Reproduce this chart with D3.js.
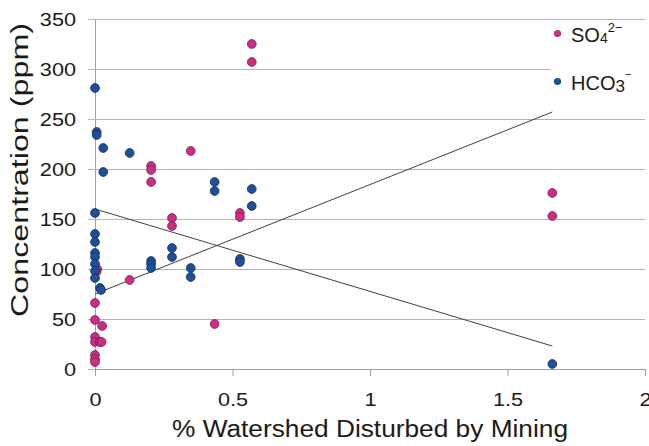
<!DOCTYPE html>
<html>
<head>
<meta charset="utf-8">
<script src="https://cdn.jsdelivr.net/npm/d3@7"></script>
<style>
  body { margin: 0; background: #fff; }
  svg { font-family: "Liberation Sans", Arial, sans-serif; }
</style>
</head>
<body>
<svg id="chart" width="649" height="446" viewBox="0 0 649 446"></svg>
<script>
// SO4 2- points (x = % watershed disturbed, y = ppm)
const so4X = [0.57, 0.57, 0.527, 0.527, 0.348, 0.204, 0.204, 0.204, 0.28, 0.28, 0.126, 0.435, 1.663, 1.663,
              0.008, 0.005, 0, 0, 0.026, 0, 0, 0.018, 0.024, 0, 0, 0]
const so4Y = [325, 307, 156, 152, 218, 203, 199, 187, 151, 143, 89, 45, 176, 153,
              100, 97, 66, 49, 43, 32, 27, 27, 27, 14, 10, 7]

// HCO3- points
const hco3X = [0, 0.006, 0.006, 0.03, 0.03, 0.126, 0.435, 0.435, 0.57, 0.57, 0.527, 0.527, 0.348, 0.348,
               0.28, 0.28, 0.204, 0.204, 0.204, 0, 0, 0, 0, 0, 0, 0, 0, 0.018, 0.022, 1.663]
const hco3Y = [281, 237, 234, 221, 197, 216, 187, 178, 180, 163, 110, 107, 101, 92,
               121, 112, 108, 105, 101, 156, 135, 127, 116, 112, 105, 98, 91, 81, 79, 5]

// linear trend lines (end points in data units)
const trendX = [0, 1.663]
const so4Trend = [75, 257]
const hco3Trend = [160, 23]

const xTicks = [0, 0.5, 1, 1.5, 2]
const yTicks = [0, 50, 100, 150, 200, 250, 300, 350]

const pink = "#cc2d85", pinkEdge = "#7e1a55"
const blue = "#1d4f9b", blueEdge = "#10305f"

const svg = d3.select("#chart")
const plotL = 95, plotR = 645, plotT = 19, plotB = 369

const x = d3.scaleLinear().domain([0, 2]).range([plotL, plotR])
const y = d3.scaleLinear().domain([0, 350]).range([plotB, plotT])

// the source picture's text is a bit wider than plain Arial
function widen(sel, k) {
    sel.each(function () {
        const w = this.getComputedTextLength()
        d3.select(this)
            .attr("textLength", w * k)
            .attr("lengthAdjust", "spacingAndGlyphs")
    })
}

// gridlines + y ticks
const yAxis = d3.axisLeft(y)
    .tickValues(yTicks)
    .tickSize(-(plotR - plotL))
    .tickSizeOuter(0)
    .tickPadding(19)
const gy = svg.append("g")
    .attr("transform", `translate(${plotL},0)`)
    .call(yAxis)
gy.select(".domain").attr("stroke", "#a0a0a0")
gy.selectAll(".tick line")
    .attr("stroke", "#b4b4b4")
    .attr("x1", -7)
gy.selectAll(".tick text")
    .attr("font-size", 19)
    .attr("fill", "#1a1a1a")
    .attr("font-family", "Liberation Sans, Arial, sans-serif")
    .call(widen, 1.14)

// x axis
const xAxis = d3.axisBottom(x)
    .tickValues(xTicks)
    .tickFormat(d3.format("~g"))
    .tickSize(7)
    .tickSizeOuter(0)
    .tickPadding(17)
const gx = svg.append("g")
    .attr("transform", `translate(0,${plotB})`)
    .call(xAxis)
gx.select(".domain").attr("stroke", "#a0a0a0")
gx.selectAll(".tick line").attr("stroke", "#a0a0a0")
gx.selectAll(".tick text")
    .attr("font-size", 19)
    .attr("fill", "#1a1a1a")
    .attr("font-family", "Liberation Sans, Arial, sans-serif")
    .call(widen, 1.14)

// trend lines
const line = d3.line().x(d => x(d[0])).y(d => y(d[1]))
svg.append("path")
    .datum(d3.zip(trendX, so4Trend))
    .attr("d", line)
    .attr("fill", "none")
    .attr("stroke", "#404040")
    .attr("stroke-width", 1)
svg.append("path")
    .datum(d3.zip(trendX, hco3Trend))
    .attr("d", line)
    .attr("fill", "none")
    .attr("stroke", "#404040")
    .attr("stroke-width", 1)

// points
svg.append("g")
    .selectAll("circle")
    .data(d3.zip(so4X, so4Y))
    .enter()
    .append("circle")
    .attr("cx", d => x(d[0]))
    .attr("cy", d => y(d[1]))
    .attr("r", 4.4)
    .attr("fill", pink)
    .attr("stroke", pinkEdge)
    .attr("stroke-width", 0.8)

svg.append("g")
    .selectAll("circle")
    .data(d3.zip(hco3X, hco3Y))
    .enter()
    .append("circle")
    .attr("cx", d => x(d[0]))
    .attr("cy", d => y(d[1]))
    .attr("r", 4.4)
    .attr("fill", blue)
    .attr("stroke", blueEdge)
    .attr("stroke-width", 0.8)

// legend
const legend = svg.append("g").attr("font-size", 20).attr("fill", "#1a1a1a")
legend.append("rect").attr("x", 550).attr("y", 20).attr("width", 98).attr("height", 28).attr("fill", "#fff")
legend.append("rect").attr("x", 550).attr("y", 68).attr("width", 98).attr("height", 28).attr("fill", "#fff")
legend.append("circle").attr("cx", 557.5).attr("cy", 33.5).attr("r", 3.6).attr("fill", pink)
legend.append("circle").attr("cx", 557.5).attr("cy", 81.5).attr("r", 3.6).attr("fill", blue)

const t1 = legend.append("text").attr("x", 571).attr("y", 41.5)
t1.append("tspan").text("SO")
t1.append("tspan").attr("font-size", 14).attr("dy", 1).text("4")
t1.append("tspan").attr("font-size", 13).attr("dy", -11).text("2−")

const t2 = legend.append("text").attr("x", 571).attr("y", 89.5)
t2.append("tspan").text("HCO")
t2.append("tspan").attr("font-size", 17).attr("dy", 2).text("3")
t2.append("tspan").attr("font-size", 11).attr("dy", -14).text("−")

// axis titles
svg.append("text")
    .attr("x", (plotL + plotR) / 2)
    .attr("y", 437)
    .attr("text-anchor", "middle")
    .attr("font-size", 23)
    .attr("fill", "#1a1a1a")
    .text("% Watershed Disturbed by Mining")
    .attr("textLength", 396)
    .attr("lengthAdjust", "spacingAndGlyphs")

svg.append("text")
    .attr("transform", "translate(28,170) rotate(-90)")
    .attr("text-anchor", "middle")
    .attr("font-size", 23)
    .attr("fill", "#1a1a1a")
    .text("Concentration (ppm)")
    .attr("textLength", 294)
    .attr("lengthAdjust", "spacingAndGlyphs")
</script>
</body>
</html>
